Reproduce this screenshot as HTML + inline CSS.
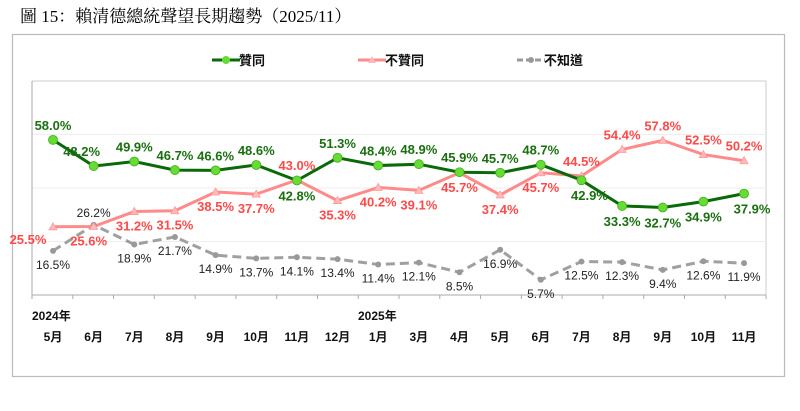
<!DOCTYPE html>
<html><head><meta charset="utf-8"><style>
body{margin:0;background:#fff;width:800px;height:406px;overflow:hidden}
svg text{font-family:"Liberation Sans","Noto Sans CJK TC",sans-serif}
</style></head><body>
<svg id="s" width="800" height="406" xmlns="http://www.w3.org/2000/svg">
<text x="20" y="22" font-size="17" font-family="'Liberation Serif','Noto Serif CJK SC',serif" style="font-family:'Liberation Serif','Noto Serif CJK SC',serif">圖 15：賴清德總統聲望長期趨勢（2025/11）</text>
<rect x="12.5" y="34.5" width="772" height="342" fill="none" stroke="#bbb" stroke-width="1.2"/>
<line x1="32" y1="81" x2="766" y2="81" stroke="#ccc"/>
<line x1="766" y1="81" x2="766" y2="295" stroke="#ccc"/>
<line x1="32" y1="134.5" x2="766" y2="134.5" stroke="#eee"/>
<line x1="32" y1="188" x2="766" y2="188" stroke="#eee"/>
<line x1="32" y1="241.5" x2="766" y2="241.5" stroke="#eee"/>
<line x1="32" y1="81" x2="32" y2="295" stroke="#aaa"/>
<line x1="32" y1="295" x2="766" y2="295" stroke="#aaa"/>
<g id="g"></g>
<g font-size="13" font-weight="bold">
<line x1="212" y1="60" x2="240" y2="60" stroke="#0a6a0a" stroke-width="3"/><circle cx="226" cy="60" r="4" fill="#66dd33"/>
<text x="239" y="65" fill="#111">贊同</text>
<line x1="358" y1="60" x2="386" y2="60" stroke="#ff8a8a" stroke-width="3"/><path d="M372 56l4 7h-8z" fill="#ffbbbb"/>
<text x="385" y="65" fill="#111">不贊同</text>
<line x1="517" y1="60" x2="545" y2="60" stroke="#999" stroke-width="3" stroke-dasharray="6,3"/><circle cx="531" cy="60" r="3" fill="#999"/>
<text x="544" y="65" fill="#111">不知道</text>
</g>
</svg>
<script>
var A=[58.0,48.2,49.9,46.7,46.6,48.6,42.8,51.3,48.4,48.9,45.9,45.7,48.7,42.9,33.3,32.7,34.9,37.9];
var D=[25.5,25.6,31.2,31.5,38.5,37.7,43.0,35.3,40.2,39.1,45.7,37.4,45.7,44.5,54.4,57.8,52.5,50.2];
var U=[16.5,26.2,18.9,21.7,14.9,13.7,14.1,13.4,11.4,12.1,8.5,16.9,5.7,12.5,12.3,9.4,12.6,11.9];
var M=["5月","6月","7月","8月","9月","10月","11月","12月","1月","3月","4月","5月","6月","7月","8月","9月","10月","11月"];
function X(i){return 53+i*40.65}function Y(v){return 295-v*2.675}
var h="";
for(var i=0;i<=18;i++){var tx=32+i*40.78;h+='<line x1="'+tx+'" y1="295" x2="'+tx+'" y2="299" stroke="#aaa"/>';}
M.forEach(function(m,i){h+='<text x="'+X(i)+'" y="341" font-size="12" font-weight="bold" text-anchor="middle" fill="#111">'+m+'</text>'});
h+='<text x="32" y="320" font-size="12" font-weight="bold" fill="#111">2024年</text><text x="358" y="320" font-size="12" font-weight="bold" fill="#111">2025年</text>';
function pts(a){return a.map(function(v,i){return X(i)+','+Y(v)}).join(' ')}
h+='<polyline points="'+pts(U)+'" fill="none" stroke="#a0a0a0" stroke-width="3" stroke-dasharray="9,5"/>';
h+='<polyline points="'+pts(D)+'" fill="none" stroke="#ff8a8a" stroke-width="3"/>';
h+='<polyline points="'+pts(A)+'" fill="none" stroke="#0a6a0a" stroke-width="3"/>';
U.forEach(function(v,i){h+='<circle cx="'+X(i)+'" cy="'+Y(v)+'" r="3" fill="#999"/>'});
D.forEach(function(v,i){var x=X(i),y=Y(v);h+='<path d="M'+x+' '+(y-4)+'l4 7h-8z" fill="#ffbbbb" stroke="#ff9999" stroke-width="0.8"/>'});
A.forEach(function(v,i){h+='<circle cx="'+X(i)+'" cy="'+Y(v)+'" r="4.5" fill="#66dd33" stroke="#44aa22" stroke-width="0.8"/>'});
var ab=[0,0,0,0,0,0,1,0,0,0,0,0,0,1,1,1,1,1];
var adx=[0,-12,0,0,0,0,0,0,0,0,0,0,0,8,0,0,0,8];
A.forEach(function(v,i){var y=Y(v)+(ab[i]?20:-10);h+='<text x="'+(X(i)+adx[i])+'" y="'+y+'" font-size="13" font-weight="bold" text-anchor="middle" fill="#1a7010">'+v.toFixed(1)+'%</text>'});
var db=[1,1,1,1,1,1,0,1,1,1,1,1,1,0,0,0,0,0];
var ddx=[-25,-5,0,0,0,0,0,0,0,0,0,0,0,0,0,0,0,0];
var ddy=[0,0,0,0,0,0,0,0,0,0,0,0,0,0,0,0,0,0];
D.forEach(function(v,i){var y=Y(v)+(db[i]?19:-10)+ddy[i];if(i==0)y=Y(v)+17;h+='<text x="'+(X(i)+ddx[i])+'" y="'+y+'" font-size="13" font-weight="bold" text-anchor="middle" fill="#ff4a4a">'+v.toFixed(1)+'%</text>'});
U.forEach(function(v,i){var up=(i==1);var y=Y(v)+(up?-8:18);h+='<text x="'+X(i)+'" y="'+y+'" font-size="12" text-anchor="middle" fill="#222">'+v.toFixed(1)+'%</text>'});
document.getElementById('g').innerHTML=h;
</script>
</body></html>
